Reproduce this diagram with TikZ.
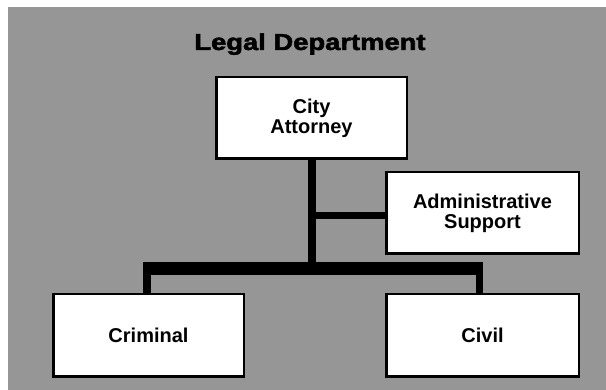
\documentclass[tikz,border=0pt]{standalone}
\usepackage{fontspec}
\usepackage{graphicx}
\setmainfont{Liberation Sans}
\newfontfamily\heavyfont[BoldFeatures={FakeBold=2}]{Liberation Sans}
\usetikzlibrary{backgrounds}
\definecolor{panelgray}{RGB}{150,150,150}
\tikzset{
  unitbox/.style={draw=black, line width=2.5pt, fill=white, rectangle,
    align=center, inner sep=0pt,
    font=\fontsize{20}{20}\selectfont\bfseries},
  trunk/.style={line width=8pt, black},
  branch/.style={line width=7pt, black},
  crossbar/.style={line width=13pt, black},
  drop/.style={line width=7.5pt, black},
}
\begin{document}
\begin{tikzpicture}[x=1pt, y=-1pt]
  \useasboundingbox (0,0) rectangle (606,390);

  % title
  \node[anchor=base, inner sep=0pt, font=\heavyfont\fontsize{23}{23}\selectfont\bfseries]
    (title) at (310,50) {\scalebox{1.19}[1]{Legal Department}};

  % units
  \node[unitbox, minimum width=190.5pt, minimum height=81.5pt] (ca) at (311.5,118) {City\\Attorney};
  \node[unitbox, minimum width=192.5pt, minimum height=81.5pt] (admin) at (482.5,213) {Administrative\\Support};
  \node[unitbox, minimum width=190.5pt, minimum height=82.5pt] (crim) at (148.5,335.5) {Criminal};
  \node[unitbox, minimum width=192.5pt, minimum height=82.5pt] (civil) at (482.5,335.5) {Civil};

  % junction points on the cross bar
  \coordinate (barL) at (143,268.5);
  \coordinate (barR) at (483,268.5);
  \coordinate (dropL) at (147,268.5);
  \coordinate (dropR) at (479.5,268.5);
  \coordinate (trunkEnd) at (311.5,268.5);
  \coordinate (tap) at (311.5,215.5);

  \begin{scope}[on background layer]
    \fill[white] (0,0) rectangle (606,390);
    \fill[panelgray] (8,7) rectangle (606,390);
    \draw[trunk] (ca.south) -- (trunkEnd);
    \draw[branch] (tap) -- (tap -| admin.west);
    \draw[crossbar] (barL) -- (barR);
    \draw[drop] (dropL) -- (dropL |- crim.north);
    \draw[drop] (dropR) -- (dropR |- civil.north);
  \end{scope}
\end{tikzpicture}
\end{document}
